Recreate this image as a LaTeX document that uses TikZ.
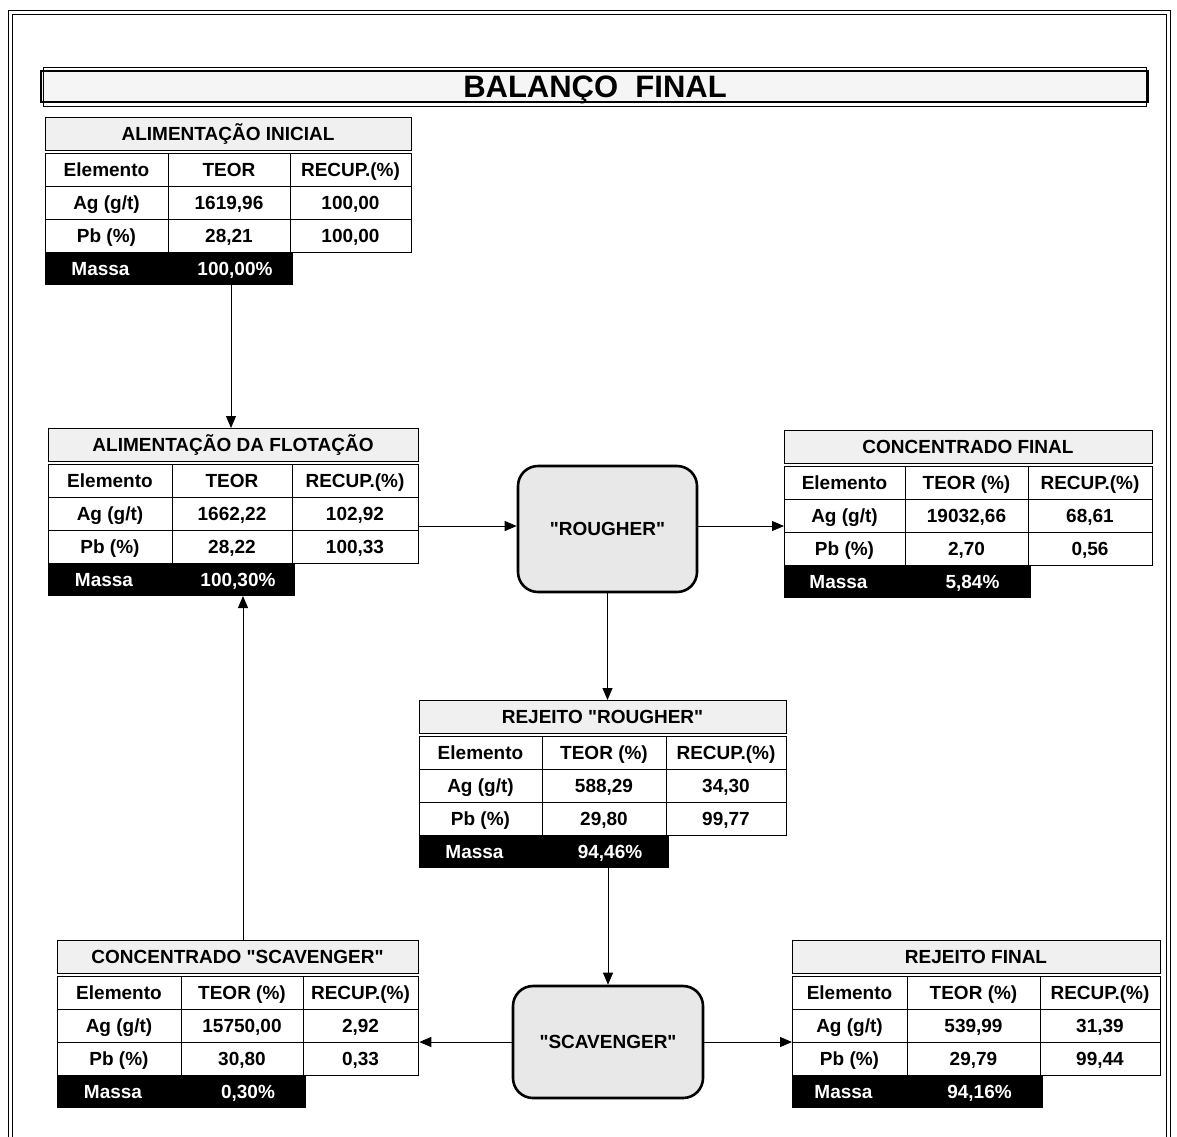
\documentclass[tikz,border=0pt]{standalone}
\usepackage{fontspec}
\setmainfont{Liberation Sans}[Ligatures=TeXOff]
\usetikzlibrary{arrows.meta}

% straight double quote
\newcommand\dq{\symbol{34}}

% geometry of the current table: column borders and top edge
\newcommand\tabgeom[5]{\def\xa{#1}\def\xb{#2}\def\xc{#3}\def\xd{#4}\def\ya{#5}}

% #1 name, #2 title, #3 grade label, #4 Ag grade, #5 Ag recovery,
% #6 Pb grade, #7 Pb recovery, #8 mass
\newcommand\baltable[8]{%
  \pgfmathsetmacro\ca{(\xa+\xb)/2}%
  \pgfmathsetmacro\cb{(\xb+\xc)/2}%
  \pgfmathsetmacro\cc{(\xc+\xd)/2}%
  \pgfmathsetmacro\cm{(\xa+\xd)/2}%
  \pgfmathsetmacro\yb{\ya+36}%
  \pgfmathsetmacro\yc{\ya+69}%
  \pgfmathsetmacro\yd{\ya+102}%
  \pgfmathsetmacro\ye{\ya+135}%
  \node[hdrbox, minimum width={\xd-\xa}, minimum height=33, anchor=north west] (#1-h) at (\xa,\ya) {};
  \node[txt, anchor=base] at (\cm,{\ya+23.5}) {#2};
  \node[bodybox, minimum width={\xd-\xa}, minimum height=99, anchor=north west] (#1-b) at (\xa,\yb) {};
  \draw[grid] (\xb,\yb) -- (\xb,\ye) (\xc,\yb) -- (\xc,\ye)
              (\xa,\yc) -- (\xd,\yc) (\xa,\yd) -- (\xd,\yd);
  \node[txt, anchor=base] at (\ca,{\yb+23.5}) {Elemento};
  \node[txt, anchor=base] at (\cb,{\yb+23.5}) {#3};
  \node[txt, anchor=base] at (\cc,{\yb+23.5}) {RECUP.(\%)};
  \node[txt, anchor=base] at (\ca,{\yc+23.5}) {Ag (g/t)};
  \node[txt, anchor=base] at (\cb,{\yc+23.5}) {#4};
  \node[txt, anchor=base] at (\cc,{\yc+23.5}) {#5};
  \node[txt, anchor=base] at (\ca,{\yd+23.5}) {Pb (\%)};
  \node[txt, anchor=base] at (\cb,{\yd+23.5}) {#6};
  \node[txt, anchor=base] at (\cc,{\yd+23.5}) {#7};
  \node[massabox, minimum width={\xc-\xa+2}, minimum height=32, anchor=north west] (#1-m) at (\xa,\ye) {};
  \node[masstxt, anchor=base] at ({\ca-6},{\ye+23}) {Massa};
  \node[masstxt, anchor=base] at ({\cb+6},{\ye+23}) {#8};
}

\begin{document}
\begin{tikzpicture}[x=1pt,y=-1pt,
  txt/.style={font=\fontsize{19}{22}\selectfont\bfseries, inner sep=0pt},
  masstxt/.style={txt, text=white},
  hdrbox/.style={draw, line width=1.3pt, fill=gray!12, inner sep=0pt},
  bodybox/.style={draw, line width=1.3pt, fill=white, inner sep=0pt},
  grid/.style={line width=1pt},
  massabox/.style={fill=black, draw=black, line width=1pt, inner sep=0pt},
  procbox/.style={draw, line width=2.6pt, rounded corners=20pt, fill=gray!18,
    inner sep=0pt, font=\fontsize{19}{22}\selectfont\bfseries},
  titlebar/.style={draw, line width=2.2pt, fill=gray!8, inner sep=0pt},
  arr/.style={line width=0.9pt, -{Triangle[length=12pt,width=10pt]}},
  frameline/.style={line width=0.9pt},
]
\useasboundingbox (0,0) rectangle (1177,1136);
\clip (0,0) rectangle (1177,1136);
\fill[white] (0,0) rectangle (1177,1136);

% double page frame, open at the bottom
\draw[frameline] (8,1140) |- (1170,10) -- (1170,1140);
\draw[frameline] (12,1140) |- (1166,14) -- (1166,1140);

% title bar
\node[titlebar, minimum width=1107, minimum height=31, anchor=north west] (title) at (40,70) {};
\draw[line width=0.6pt] ([shift={(3,-3)}]title.north west) rectangle ([shift={(-3,3)}]title.south east);
\node[font=\fontsize{31}{36}\selectfont\bfseries, anchor=base, inner sep=0pt] (titletxt)
  at (595,97) {BALANÇO\ \ FINAL};

% tables
\tabgeom{45}{168}{290}{411}{117}
\baltable{ini}{ALIMENTAÇÃO INICIAL}{TEOR}{1619,96}{100,00}{28,21}{100,00}{100,00\%}

\tabgeom{48}{172}{292}{418}{428}
\baltable{flot}{ALIMENTAÇÃO DA FLOTAÇÃO}{TEOR}{1662,22}{102,92}{28,22}{100,33}{100,30\%}

\tabgeom{784}{905}{1028}{1152}{430}
\baltable{conc}{CONCENTRADO FINAL}{TEOR (\%)}{19032,66}{68,61}{2,70}{0,56}{5,84\%}

\tabgeom{419}{542}{666}{786}{700}
\baltable{rejr}{REJEITO \dq ROUGHER\dq}{TEOR (\%)}{588,29}{34,30}{29,80}{99,77}{94,46\%}

\tabgeom{57}{181}{303}{418}{940}
\baltable{concs}{CONCENTRADO \dq SCAVENGER\dq}{TEOR (\%)}{15750,00}{2,92}{30,80}{0,33}{0,30\%}

\tabgeom{792}{907}{1040}{1160}{940}
\baltable{rejf}{REJEITO FINAL}{TEOR (\%)}{539,99}{31,39}{29,79}{99,44}{94,16\%}

% flotation stages
\node[procbox, minimum width=179, minimum height=126, text depth=-3pt] (rough) at (607.5,529) {\dq ROUGHER\dq};
\node[procbox, minimum width=190, minimum height=112] (scav) at (608,1042) {\dq SCAVENGER\dq};

% flow lines
\coordinate (feedx) at (231,0);
\coordinate (recx) at (243,0);
\coordinate (roughy) at (0,526);
\draw[arr] (ini-m.south -| feedx) -- (flot-h.north -| feedx);
\draw[arr] (flot-b.east |- roughy) -- (rough.west |- roughy);
\draw[arr] (rough.east |- roughy) -- (conc-b.west |- roughy);
\draw[arr] (rough.south) -- (rejr-h.north -| rough.south);
\draw[arr] (rejr-m.south -| scav.north) -- (scav.north);
\draw[arr] (scav.west) -- (concs-b.east |- scav.west);
\draw[arr] (scav.east) -- (rejf-b.west |- scav.east);
\draw[arr] (concs-h.north -| recx) -- (flot-m.south -| recx);
\end{tikzpicture}
\end{document}
